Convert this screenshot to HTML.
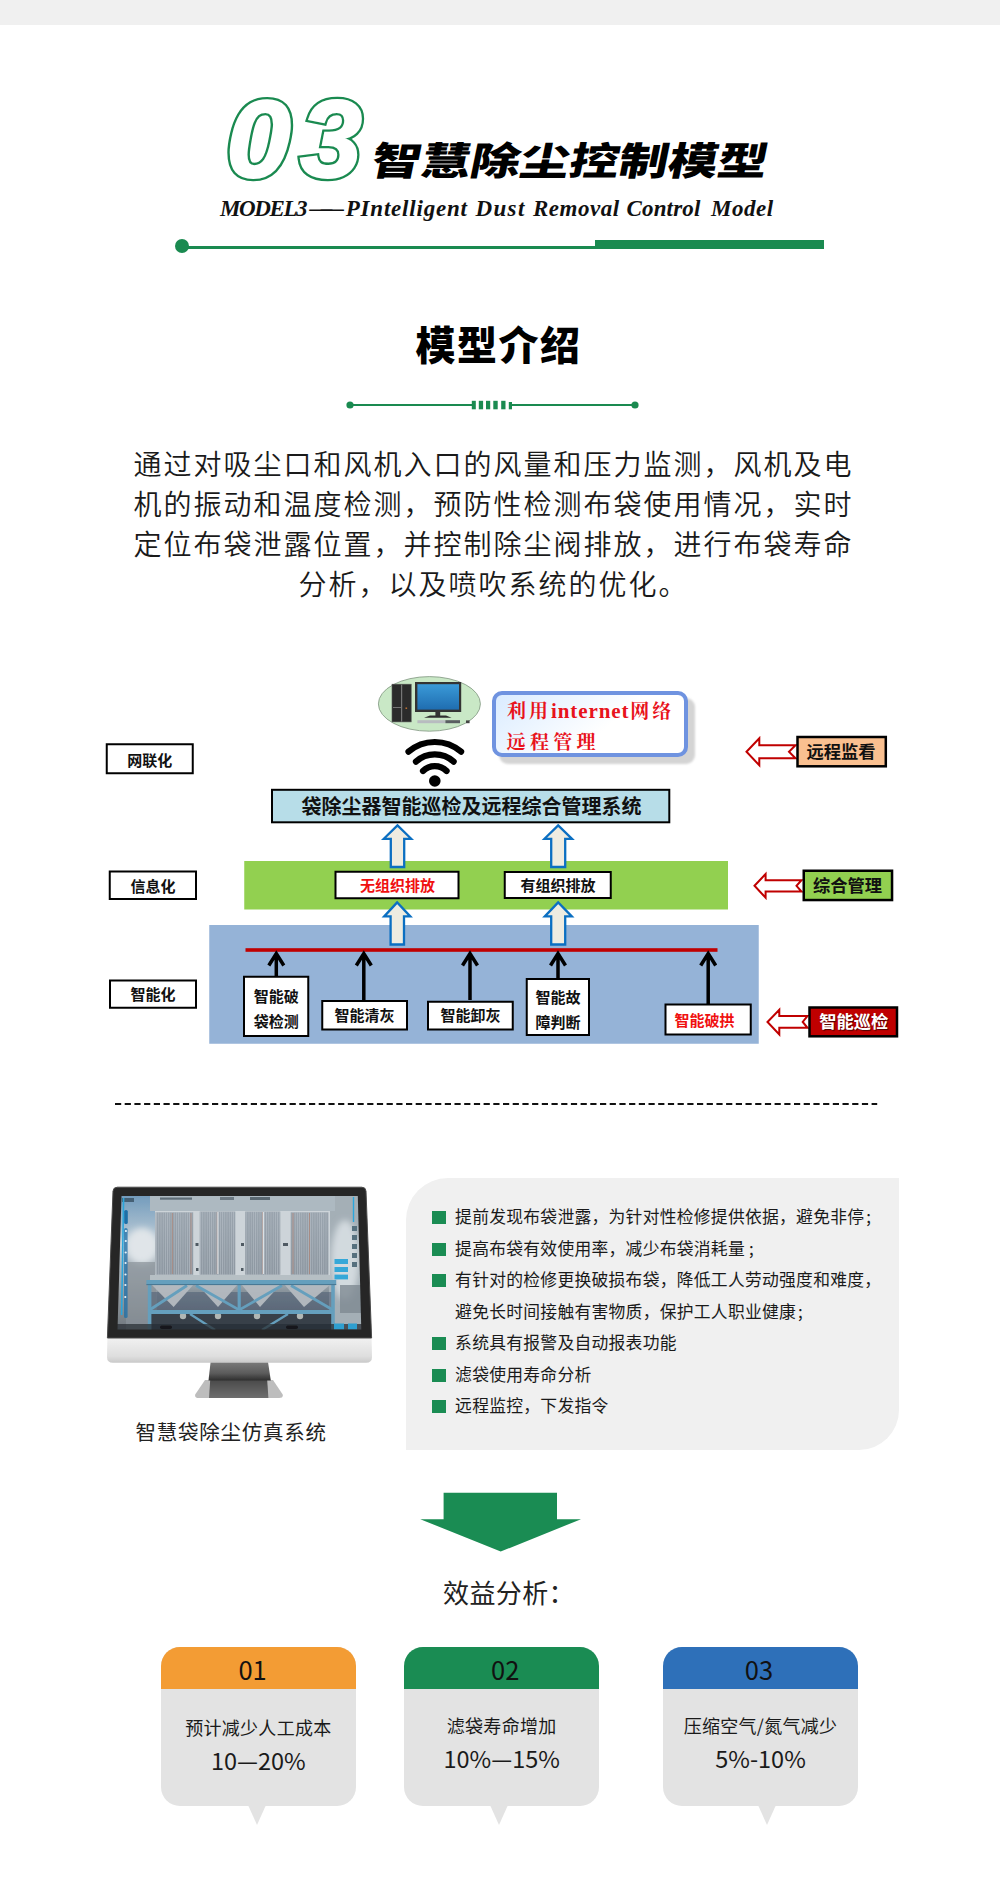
<!DOCTYPE html>
<html lang="zh-CN">
<head>
<meta charset="utf-8">
<title>智慧除尘控制模型</title>
<style>
*{margin:0;padding:0;box-sizing:border-box}
html,body{width:1000px;height:1882px;background:#fff;overflow:hidden}
body{position:relative;font-family:"Liberation Sans","Noto Sans CJK SC",sans-serif;color:#1a1a1a}
.abs{position:absolute;white-space:nowrap}
.topband{left:0;top:0;width:1000px;height:25px;background:#f0f0f0}
/* header */
.num{left:0;top:68.6px;width:400px;height:140px;font-family:"Liberation Sans",sans-serif;font-weight:700;font-style:italic;font-size:110px;line-height:140px}
.num span{position:absolute;top:0;color:#fff;-webkit-text-stroke:6.6px #1a8a50;paint-order:stroke fill;transform-origin:0 50%}
.num span::after{position:absolute;left:0;top:0;color:#fff;-webkit-text-stroke:2px #fff;paint-order:stroke fill}
.num .d0{left:226px;transform:scaleX(1.06)}.num .d0::after{content:"0"}
.num .d3{left:300.3px;transform:scaleX(1.015)}.num .d3::after{content:"3"}
.h1{left:372px;top:130.2px;font-family:"Liberation Sans","Noto Sans CJK SC",sans-serif;font-weight:900;font-size:38.7px;line-height:64px;color:#000;letter-spacing:-.21px;transform-origin:0 50%;transform:scaleX(1.285) skewX(-9deg)}
.sub{font-family:"Liberation Serif",serif;font-weight:700;font-style:italic;font-size:23px;line-height:28px;color:#111}
.gdot{left:175px;top:239px;width:14px;height:14px;border-radius:50%;background:#1a8a50}
.gthin{left:182px;top:245.5px;width:414px;height:3.5px;background:#1a8a50}
.gthick{left:595px;top:240px;width:229px;height:9px;background:#1a8a50}
/* intro */
.h2{left:0;width:1000px;top:317px;text-align:center;font-weight:900;font-size:40px;line-height:58px;color:#000;letter-spacing:1.5px;padding-right:3px}
.para{left:129.5px;width:728px;top:446.4px;text-align:center;white-space:normal;font-weight:350;font-size:28px;line-height:40px;letter-spacing:2px;color:#1a1a1a}
/* panel */
.panel{left:405.5px;top:1177.5px;width:493.5px;height:272.5px;background:#f0f0f0;border-radius:42px 0 40px 0}
.blist{left:431.7px;top:1201px;font-family:"Noto Sans CJK SC","Liberation Sans",sans-serif;font-size:16.8px;line-height:31.5px;color:#1a1a1a}
.blist .li{position:relative;height:31.5px;padding-left:23.4px;white-space:nowrap;letter-spacing:.27px}
.blist .li i{position:absolute;left:0;top:10.2px;width:14px;height:13.2px;background:#1a8c53}
/* cards */
.card{top:1646.5px;width:194.7px;height:159px;background:#e3e3e3;border-radius:19px;white-space:nowrap;font-family:"Noto Sans CJK SC","Liberation Sans",sans-serif;color:#1a1a1a}
.card .hd{position:absolute;left:0;top:0;width:100%;height:42.5px;border-radius:19px 19px 0 0;text-align:center;font-size:25.5px;line-height:44.6px;color:#111}
.card .t1{position:absolute;left:0;width:100%;text-align:center;font-size:18px;line-height:30px;letter-spacing:.3px}
.card .t2{position:absolute;left:0;width:100%;text-align:center;font-size:23.5px;line-height:36px}
.card b{position:absolute;top:158.5px;width:0;height:0;border-left:9.2px solid transparent;border-right:9.2px solid transparent;border-top:20px solid #e3e3e3}
</style>
</head>
<body>
<div class="abs topband"></div>

<!-- ===== header ===== -->
<div class="abs num"><span class="d0">0</span><span class="d3">3</span></div>
<div class="abs h1">智慧除尘控制模型</div>
<div class="abs sub" style="left:0;top:195.4px;width:1000px;height:28px">
  <span class="abs" style="left:220px;letter-spacing:-1.4px">MODEL3</span><span class="abs" style="left:309.6px;letter-spacing:-11.6px">——</span><span class="abs" style="left:345.7px;letter-spacing:.8px">PIntelligent</span>
  <span class="abs" style="left:475.4px;letter-spacing:1.4px">Dust</span>
  <span class="abs" style="left:533px;letter-spacing:.5px">Removal</span>
  <span class="abs" style="left:626.4px;letter-spacing:.2px">Control</span>
  <span class="abs" style="left:711px;letter-spacing:.5px">Model</span>
</div>
<div class="abs gthin"></div>
<div class="abs gthick"></div>
<div class="abs gdot"></div>

<!-- ===== intro ===== -->
<div class="abs h2">模型介绍</div>
<svg class="abs" style="left:340px;top:395px" width="310" height="20" viewBox="340 395 310 20">
  <line x1="350" y1="405" x2="635" y2="405" stroke="#1a8a50" stroke-width="2"/>
  <circle cx="350" cy="405" r="3.6" fill="#1a8a50"/>
  <circle cx="635" cy="405" r="3.6" fill="#1a8a50"/>
  <rect x="469" y="399" width="46" height="12" fill="#fff"/>
  <line x1="350" y1="405" x2="473" y2="405" stroke="#1a8a50" stroke-width="2"/>
  <line x1="511" y1="405" x2="635" y2="405" stroke="#1a8a50" stroke-width="2"/>
  <g fill="#1a8a50">
    <rect x="471.8" y="400.8" width="4" height="8.5"/>
    <rect x="478.8" y="400.8" width="4.3" height="8.5"/>
    <rect x="486" y="400.8" width="4.2" height="8.5"/>
    <rect x="493.3" y="400.8" width="4.4" height="8.5"/>
    <rect x="501.2" y="400.8" width="4.3" height="8.5"/>
    <rect x="508.8" y="402" width="3.2" height="7.3"/>
  </g>
</svg>
<div class="abs para">通过对吸尘口和风机入口的风量和压力监测，风机及电机的振动和温度检测，预防性检测布袋使用情况，实时定位布袋泄露位置，并控制除尘阀排放，进行布袋寿命分析，以及喷吹系统的优化。</div>

<!-- ===== diagram ===== -->
<svg class="abs" style="left:90px;top:665px" width="830" height="390" viewBox="90 665 830 390" font-family="'Liberation Sans','Noto Sans CJK SC',sans-serif" font-weight="700">
  <defs>
    <linearGradient id="scr" x1="0" y1="0" x2="0" y2="1"><stop offset="0" stop-color="#3a9ad8"/><stop offset="1" stop-color="#1f6db0"/></linearGradient>
    <linearGradient id="call" x1="0" y1="0" x2="1" y2="0.4"><stop offset="0" stop-color="#d9ebff"/><stop offset="0.7" stop-color="#ffffff"/></linearGradient>
    <filter id="blur1" x="-10%" y="-20%" width="120%" height="140%"><feGaussianBlur stdDeviation="0.8"/></filter>
  </defs>
  <!-- bands -->
  <rect x="244.25" y="861" width="483.75" height="48.5" fill="#92d050"/>
  <rect x="209.25" y="925" width="549.5" height="118.75" fill="#95b3d7"/>
  <!-- left labels -->
  <g fill="#fff" stroke="#000" stroke-width="2">
    <rect x="106.75" y="744.25" width="86" height="29"/>
    <rect x="109.75" y="871.5" width="86.25" height="27.5"/>
    <rect x="110" y="980.5" width="86" height="27.25"/>
  </g>
  <g font-size="15" text-anchor="middle" fill="#111">
    <text x="149.8" y="766">网联化</text>
    <text x="153" y="891.5">信息化</text>
    <text x="153" y="1000.3">智能化</text>
  </g>
  <!-- computer in ellipse -->
  <ellipse cx="429.4" cy="703.9" rx="51" ry="27.3" fill="#c9e8c6" stroke="#7f947f" stroke-width="0.8"/>
  <rect x="392" y="684.2" width="19.2" height="37.7" fill="#2b2b2b" stroke="#555" stroke-width="0.6"/>
  <rect x="401" y="684.6" width="1.2" height="37" fill="#777"/>
  <rect x="393" y="707" width="8" height="0.8" fill="#888"/>
  <rect x="405.5" y="707.5" width="1.6" height="1.4" fill="#c87533"/>
  <rect x="415" y="682" width="46.2" height="30" fill="#333"/>
  <rect x="417.4" y="684.2" width="41.6" height="25.4" fill="url(#scr)"/>
  <rect x="435.4" y="712" width="4.8" height="4" fill="#333"/>
  <path d="M424 717.8 L451.6 717.8 L446 715.4 L430 715.4 Z" fill="#2e2e2e"/>
  <rect x="417.4" y="720.2" width="28" height="3" fill="#b8bcc0"/>
  <rect x="445.4" y="720.2" width="14.6" height="3" fill="#5a5e62"/>
  <rect x="466" y="720.4" width="3.6" height="2.8" fill="#444"/>
  <!-- wifi -->
  <g fill="none" stroke="#000" stroke-width="6.2" stroke-linecap="round">
    <path d="M408.5 751.7 A40.5 40.5 0 0 1 461.1 751.7"/>
    <path d="M415.95 761.6 A28.1 28.1 0 0 1 453.65 761.6"/>
    <path d="M423 771 A16.5 16.5 0 0 1 446.6 771"/>
  </g>
  <circle cx="434.8" cy="781" r="5.8" fill="#000"/>
  <!-- callout -->
  <rect x="499" y="698" width="196" height="66" rx="9" fill="#d4d4d4" filter="url(#blur1)"/>
  <rect x="494" y="693" width="192" height="62" rx="8" fill="url(#call)" stroke="#6f93e0" stroke-width="4"/>
  <g font-family="'Liberation Serif','Noto Serif CJK SC',serif" font-weight="700" fill="#e8131c" font-size="19">
    <text x="507" y="717.5"><tspan letter-spacing="3">利用</tspan><tspan font-size="21" letter-spacing="0.9">internet</tspan><tspan letter-spacing="3" dx="1">网络</tspan></text>
    <text x="506.6" y="749" letter-spacing="4.3">远程管理</text>
  </g>
  <!-- system box -->
  <rect x="272" y="789.8" width="397.3" height="32.5" fill="#b7dde8" stroke="#000" stroke-width="2"/>
  <text x="471.5" y="814.4" font-size="20" text-anchor="middle" fill="#111">袋除尘器智能巡检及远程综合管理系统</text>
  <!-- block arrows -->
  <g fill="#eeece1" stroke="#0b6fc2" stroke-width="2.3" stroke-linejoin="miter">
    <path d="M397.5 825.4 L383.8 838.8 L390.8 838.8 L390.8 867 L404.2 867 L404.2 838.8 L411.2 838.8 Z"/>
    <path d="M558.2 825.4 L544.5 838.8 L551.2 838.8 L551.2 867 L565.2 867 L565.2 838.8 L572 838.8 Z"/>
    <path d="M397.2 902.4 L384.2 916.4 L390.6 916.4 L390.6 944.5 L404 944.5 L404 916.4 L410.3 916.4 Z"/>
    <path d="M558.2 902.4 L544.8 916.4 L551.2 916.4 L551.2 944.5 L565.2 944.5 L565.2 916.4 L571.8 916.4 Z"/>
  </g>
  <!-- green-band boxes -->
  <g fill="#fff" stroke="#000" stroke-width="2">
    <rect x="335.5" y="871.75" width="123" height="26.5"/>
    <rect x="504.75" y="872" width="106" height="26"/>
  </g>
  <text x="397.5" y="890.7" font-size="15" text-anchor="middle" fill="#f01010">无组织排放</text>
  <text x="558" y="890.7" font-size="15" text-anchor="middle" fill="#111">有组织排放</text>
  <!-- red line -->
  <rect x="245.5" y="948.2" width="472" height="3.6" fill="#c00000"/>
  <!-- black arrows -->
  <g fill="none" stroke="#000" stroke-width="3.5" stroke-linecap="butt" stroke-linejoin="miter">
    <path d="M276.3 976 V953 M268.8 965.5 L276.3 953.5 L283.8 965.5"/>
    <path d="M363.8 1000 V953 M356.3 965.5 L363.8 953.5 L371.3 965.5"/>
    <path d="M470 1000 V953 M462.5 965.5 L470 953.5 L477.5 965.5"/>
    <path d="M558 978 V953 M550.5 965.5 L558 953.5 L565.5 965.5"/>
    <path d="M708.2 1004 V953 M700.7 965.5 L708.2 953.5 L715.7 965.5"/>
  </g>
  <!-- bottom boxes -->
  <g fill="#fff" stroke="#000" stroke-width="2">
    <rect x="244" y="976.75" width="64.25" height="59.25"/>
    <rect x="322.25" y="1001" width="84.75" height="28.5"/>
    <rect x="428" y="1001.75" width="84.75" height="27.75"/>
    <rect x="526.75" y="979" width="62.25" height="56"/>
    <rect x="665.5" y="1004.5" width="85.25" height="30"/>
  </g>
  <g font-size="15" text-anchor="middle" fill="#111">
    <text x="276.2" y="1002.3">智能破</text>
    <text x="276.2" y="1027.3">袋检测</text>
    <text x="364.6" y="1021">智能清灰</text>
    <text x="470.4" y="1021.3">智能卸灰</text>
    <text x="557.9" y="1002.8">智能故</text>
    <text x="557.9" y="1027.8">障判断</text>
    <text x="704.5" y="1025.6" fill="#f01010">智能破拱</text>
  </g>
  <!-- right arrows -->
  <g fill="#fff" stroke="#c00000" stroke-width="2" stroke-linejoin="miter">
    <path d="M746.5 751.75 L759.3 738.2 L759.3 745.2 L795.5 745.2 L789 751.75 L795.5 758.3 L759.3 758.3 L759.3 765.3 Z"/>
    <path d="M754.5 885.8 L765.6 874 L765.6 880.2 L801.5 880.2 L796.5 885.8 L801.5 891.6 L765.6 891.6 L765.6 897.7 Z"/>
    <path d="M767.5 1022 L779.3 1009.8 L779.3 1016 L807.5 1016 L802.7 1022 L807.5 1027.8 L779.3 1027.8 L779.3 1034.4 Z"/>
  </g>
  <!-- right boxes -->
  <rect x="797.5" y="737" width="88.3" height="29.3" fill="#fac090" stroke="#000" stroke-width="2.5"/>
  <rect x="803.75" y="870.75" width="88.3" height="29.3" fill="#92d050" stroke="#000" stroke-width="2.5"/>
  <rect x="809.5" y="1007.5" width="87.5" height="28.8" fill="#c00000" stroke="#000" stroke-width="2.5"/>
  <g font-size="17.3" text-anchor="middle" fill="#111">
    <text x="841" y="758">远程监看</text>
    <text x="847.5" y="891.8">综合管理</text>
    <text x="853.8" y="1028.3" fill="#fff" style="text-shadow:1px 1px 1px rgba(0,0,0,.6)">智能巡检</text>
  </g>
</svg>


<!-- ===== dashed rule ===== -->
<svg class="abs" style="left:100px;top:1098px" width="800" height="12" viewBox="100 1098 800 12"><line x1="115" y1="1104" x2="877.2" y2="1104" stroke="#111" stroke-width="2" stroke-dasharray="6.2 3.5"/></svg>


<!-- ===== monitor ===== -->
<svg class="abs" style="left:100px;top:1180px" width="280" height="225" viewBox="100 1180 280 225">
  <defs>
    <linearGradient id="mbg" x1="0" y1="0" x2="0" y2="1">
      <stop offset="0" stop-color="#9fb3c2"/><stop offset="0.12" stop-color="#c3cdd2"/><stop offset="0.55" stop-color="#c9cfd2"/><stop offset="0.7" stop-color="#8d979e"/><stop offset="1" stop-color="#4d5860"/>
    </linearGradient>
    <linearGradient id="mpan" x1="0" y1="0" x2="0" y2="1"><stop offset="0" stop-color="#9ea7b0"/><stop offset="1" stop-color="#8f98a1"/></linearGradient>
    <pattern id="corr" width="2.2" height="10" patternUnits="userSpaceOnUse"><rect width="2.2" height="10" fill="none"/><rect x="0" width="0.8" height="10" fill="#c8d0d6" opacity="0.55"/></pattern>
    <linearGradient id="mchin" x1="0" y1="0" x2="0" y2="1"><stop offset="0" stop-color="#f2f2f2"/><stop offset="0.75" stop-color="#dedede"/><stop offset="1" stop-color="#c9c9c9"/></linearGradient>
    <linearGradient id="mneck" x1="0" y1="0" x2="0" y2="1"><stop offset="0" stop-color="#7a7a7a"/><stop offset="0.6" stop-color="#5c5c5c"/><stop offset="1" stop-color="#2e2e2e"/></linearGradient>
    <linearGradient id="mbase" x1="0" y1="0" x2="0" y2="1"><stop offset="0" stop-color="#4a4a4a"/><stop offset="1" stop-color="#6e6e6e"/></linearGradient>
    <linearGradient id="msky" x1="0" y1="0" x2="0" y2="1"><stop offset="0" stop-color="#6f9cc0"/><stop offset="0.35" stop-color="#c8d6df"/><stop offset="0.6" stop-color="#a9b0b5"/><stop offset="1" stop-color="#6d7378"/></linearGradient>
    <clipPath id="mclip"><path d="M121.5 1196 L357.8 1196 L361.3 1329.6 L117.5 1329.6 Z"/></clipPath>
    <filter id="mblur" x="-20%" y="-20%" width="140%" height="140%"><feGaussianBlur stdDeviation="3"/></filter>
    <filter id="mblur1" x="-5%" y="-5%" width="110%" height="110%"><feGaussianBlur stdDeviation="0.65"/></filter>
  </defs>
  <!-- stand -->
  <path d="M205 1380 L273 1380 L282.7 1394.5 Q283.5 1398 279 1398 L199 1398 Q194.5 1398 195.2 1394.5 Z" fill="#bdbdbd"/>
  <path d="M210.2 1380 L267.2 1380 L268.4 1398 L209 1398 Z" fill="url(#mbase)"/>
  <path d="M210.6 1362 L268 1362 L270.8 1380.5 L208.5 1380.5 Z" fill="url(#mneck)"/>
  <!-- chin -->
  <path d="M107.4 1337 L371.6 1337 L372 1357 Q372 1362.8 366 1362.8 L113 1362.8 Q107 1362.8 107 1357 Z" fill="url(#mchin)"/>
  <!-- bezel -->
  <path d="M117.3 1187.2 L361.8 1187.2 Q365.8 1187.2 366 1191.2 L371.6 1338 L107.4 1338 L113 1191.2 Q113.3 1187.2 117.3 1187.2 Z" fill="#262626"/>
  <path d="M117.3 1187.2 L361.8 1187.2 Q365.8 1187.2 366 1191.2 L371.6 1338 L107.4 1338 L113 1191.2 Q113.3 1187.2 117.3 1187.2 Z" fill="none" stroke="#4a4a4a" stroke-width="1"/>
  <!-- screen -->
  <g clip-path="url(#mclip)" filter="url(#mblur1)">
    <rect x="115" y="1194" width="250" height="138" fill="url(#mbg)"/>
    <!-- left sky/cloud -->
    <rect x="115" y="1194" width="42" height="138" fill="url(#msky)"/>
    <ellipse cx="142" cy="1246" rx="16" ry="18" fill="#eef2f4" filter="url(#mblur)"/>
    <rect x="126" y="1262" width="30" height="70" fill="#8d949a" opacity="0.7"/>
    <!-- right steam -->
    <rect x="329" y="1196" width="34" height="136" fill="#aab4ba"/>
    <ellipse cx="345" cy="1260" rx="14" ry="40" fill="#dfe5e8" filter="url(#mblur)"/>
    <rect x="340" y="1285" width="22" height="28" fill="#7f8a91" opacity="0.8"/>
    <!-- ceiling -->
    <rect x="150" y="1196" width="185" height="15" fill="#b4c0c6"/>
    <rect x="160" y="1197.5" width="32" height="2.2" fill="#5c6a74"/>
    <rect x="220" y="1197" width="14" height="3" fill="#6a7780"/>
    <rect x="250" y="1197" width="20" height="3" fill="#56636c"/>
    <rect x="122" y="1198" width="12" height="4" fill="#3d5a70"/>
    <!-- white gaps behind panels -->
    <rect x="155" y="1211" width="175" height="66" fill="#d9dfe2"/>
    <!-- panels -->
    <g>
      <rect x="155.5" y="1212.3" width="37.7" height="62.4" fill="url(#mpan)"/>
      <rect x="199.7" y="1211.5" width="35.6" height="63.2" fill="url(#mpan)"/>
      <rect x="245.2" y="1211.5" width="35.1" height="63.2" fill="url(#mpan)"/>
      <rect x="290.7" y="1212.3" width="37.7" height="62.4" fill="url(#mpan)"/>
      <rect x="155.5" y="1212.3" width="37.7" height="62.4" fill="url(#corr)"/>
      <rect x="199.7" y="1211.5" width="35.6" height="63.2" fill="url(#corr)"/>
      <rect x="245.2" y="1211.5" width="35.1" height="63.2" fill="url(#corr)"/>
      <rect x="290.7" y="1212.3" width="37.7" height="62.4" fill="url(#corr)"/>
      <g stroke="#b8806c" stroke-width="0.8" opacity="0.85">
        <path d="M172.4 1213V1274M191 1213V1274M217.3 1212V1274M262.8 1212V1274M293 1213V1274M309.5 1213V1274"/>
      </g>
      <g stroke="#e8edf0" stroke-width="1.2"><path d="M217.9 1212V1274M263.4 1212V1274"/></g>
      <g fill="#4a545c"><rect x="195.5" y="1243" width="3" height="3"/><rect x="241" y="1243" width="3" height="3"/><rect x="283" y="1243" width="5" height="3"/><rect x="196" y="1268" width="2.5" height="3"/><rect x="241" y="1268" width="2.5" height="3"/></g>
    </g>
    <!-- hoppers -->
    <rect x="151" y="1292" width="181" height="19" fill="#46546c" opacity="0.55"/>
    <g fill="#bcc1c5" opacity="0.97">
      <path d="M151 1284 L194 1284 L173.6 1307 Z"/><path d="M197 1284 L238 1284 L218 1307 Z"/><path d="M241 1284 L281 1284 L260 1307 Z"/><path d="M284 1284 L331 1284 L304 1307 Z"/>
    </g>
    <rect x="150" y="1275" width="182" height="6" fill="#bfc6ca"/>
    <!-- lower dark -->
    <rect x="150" y="1314" width="184" height="18" fill="#2e353d"/>
    <g fill="#b9bdb8"><circle cx="183" cy="1316" r="3.2"/><circle cx="218" cy="1316" r="3.2"/><circle cx="257" cy="1316" r="3.2"/><circle cx="300" cy="1316" r="3.2"/></g>
    <!-- truss -->
    <g stroke="#62a2c2" fill="none" stroke-linecap="butt">
      <path d="M146.4 1282.4 H336.2" stroke-width="5"/>
      <path d="M149 1312 H334" stroke-width="4.2"/>
      <path d="M149.6 1283 V1330" stroke-width="3.6"/>
      <path d="M239.2 1284 V1312" stroke-width="3.2"/>
      <path d="M333 1284 V1330" stroke-width="3.6"/>
      <path d="M149.5 1310 L187 1285.5 M196 1285.5 L239.2 1310 L282 1285.5 M291 1285.5 L333 1310" stroke-width="2.8"/>
      <path d="M190 1314 L215 1330 M288 1314 L262 1330" stroke-width="2.4"/>
    </g>
    <path d="M146.4 1284.6 H336.2" stroke="#3f7390" stroke-width="1"/>
    <rect x="115" y="1194" width="250" height="138" fill="#7a8c9a" opacity="0.12"/>
    <!-- bottom ui -->
    <rect x="117" y="1324" width="246" height="7" fill="#2a3036" opacity="0.75"/>
    <rect x="160" y="1325.5" width="12" height="3.6" rx="1.8" fill="#14181c"/><rect x="286" y="1325.5" width="12" height="3.6" rx="1.8" fill="#14181c"/>
    <rect x="334" y="1323.5" width="10" height="6" fill="#2f9fd0"/><rect x="348" y="1323.5" width="9" height="6" fill="#2f9fd0"/>
    <!-- left ui bar -->
    <path d="M123.6 1198 L121.6 1315" stroke="#2aa6dc" stroke-width="1.6" fill="none"/>
    <g fill="#1d6fa8"><rect x="124.2" y="1210" width="3.6" height="14" rx="1.6"/><rect x="124" y="1228" width="3.6" height="90" rx="1.6" opacity="0.75"/></g>
    <g fill="#e8f4fa"><circle cx="125.9" cy="1231" r="1.1"/><circle cx="125.8" cy="1241" r="1.1"/><circle cx="125.7" cy="1252.5" r="1.1"/><circle cx="125.6" cy="1263" r="1.1"/><circle cx="125.5" cy="1274.5" r="1.1"/><circle cx="125.4" cy="1285" r="1.1"/><circle cx="125.3" cy="1297" r="1.1"/></g>
    <!-- right ui -->
    <g fill="#35a8d8"><rect x="334.5" y="1259" width="13.5" height="5"/><rect x="334.5" y="1267" width="13.5" height="5"/><rect x="334.5" y="1274.6" width="13.5" height="4.8"/></g>
    <g fill="#56707e"><rect x="352" y="1226" width="5" height="5"/><rect x="352" y="1235" width="5" height="5"/><rect x="352" y="1244" width="5" height="5"/><rect x="352" y="1253" width="5" height="5"/><rect x="352" y="1262" width="5" height="5"/></g>
    <path d="M353.5 1197 V1222" stroke="#2aa6dc" stroke-width="1.4"/>
  </g>
</svg>
<div class="abs" style="left:135.4px;top:1418.2px;font-size:20.5px;line-height:30px;letter-spacing:.75px;color:#222;font-weight:400">智慧袋除尘仿真系统</div>


<!-- ===== bullet panel ===== -->
<div class="abs panel"></div>
<div class="abs blist">
  <div class="li"><i></i>提前发现布袋泄露，为针对性检修提供依据，避免非停<span style="margin-left:2px">;</span></div>
  <div class="li"><i></i>提高布袋有效使用率，减少布袋消耗量 ;</div>
  <div class="li"><i></i>有针对的检修更换破损布袋，降低工人劳动强度和难度，</div>
  <div class="li">避免长时间接触有害物质，保护工人职业健康<span style="margin-left:2px">;</span></div>
  <div class="li"><i></i>系统具有报警及自动报表功能</div>
  <div class="li"><i></i>滤袋使用寿命分析</div>
  <div class="li"><i></i>远程监控，下发指令</div>
</div>


<!-- ===== benefits ===== -->
<svg class="abs" style="left:410px;top:1485px" width="180" height="75" viewBox="410 1485 180 75"><path d="M443.6 1492.8 H557 V1519.2 H581 L500.7 1551.6 L420.3 1519.2 H443.6 Z" fill="#1a8c53"/></svg>
<div class="abs" style="left:443px;top:1574.4px;font-size:26px;line-height:40px;letter-spacing:.4px;color:#222">效益分析：</div>

<div class="abs card" style="left:161px"><div class="hd" style="background:#f39c34;padding-right:11.6px">01</div><div class="t1" style="top:65px">预计减少人工成本</div><div class="t2" style="top:95px">10—20%</div><b style="left:87px"></b></div>
<div class="abs card" style="left:404.3px"><div class="hd" style="background:#1a8c53;padding-left:7px">02</div><div class="t1" style="top:63px">滤袋寿命增加</div><div class="t2" style="top:93px">10%—15%</div><b style="left:85.7px"></b></div>
<div class="abs card" style="left:663.2px"><div class="hd" style="background:#2e70b9;padding-right:3.2px">03</div><div class="t1" style="top:63px">压缩空气/氮气减少</div><div class="t2" style="top:93px">5%-10%</div><b style="left:94.6px"></b></div>


</body>
</html>
